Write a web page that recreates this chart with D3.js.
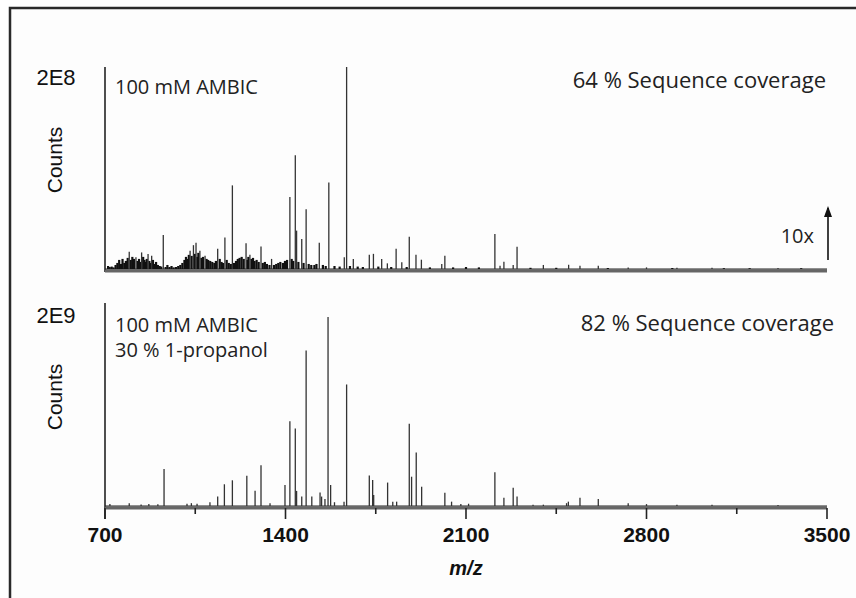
<!DOCTYPE html>
<html>
<head>
<meta charset="utf-8">
<script src="https://cdn.jsdelivr.net/npm/d3@7"></script>
<style>
  body { margin: 0; background: #fff; }
  svg { display: block; }
</style>
</head>
<body>
<div id="vis"></div>
<script>
// m/z axis ticks
const xTicks = [700, 1400, 2100, 2800, 3500]
const xMinor = [1050, 1750, 2450, 3150]

// top panel: 100 mM AMBIC (relative intensity, 1 = 2E8)
const topMz = [794, 820, 842, 867, 881, 926, 1030, 1043, 1053, 1068, 1088, 1137, 1165, 1194, 1247, 1262, 1305, 1346,
    1417, 1438, 1443, 1463, 1480, 1531, 1568, 1628, 1637, 1663, 1725, 1741, 1773, 1795, 1829, 1851, 1880, 1906, 1927,
    2006, 2018, 2212, 2232, 2247, 2283, 2298, 2400, 2498, 2542, 2613, 2729, 2800, 2918, 3054, 3310]
const topInt = [0.086, 0.058, 0.082, 0.074, 0.066, 0.168, 0.09, 0.118, 0.13, 0.09, 0.066, 0.1, 0.156, 0.414, 0.128, 0.07, 0.112, 0.05,
    0.357, 0.563, 0.19, 0.148, 0.296, 0.13, 0.428, 0.058, 1.0, 0.05, 0.07, 0.075, 0.05, 0.028, 0.1, 0.033, 0.16, 0.07, 0.046,
    0.025, 0.066, 0.173, 0.016, 0.036, 0.02, 0.11, 0.02, 0.021, 0.016, 0.016, 0.008, 0.008, 0.006, 0.006, 0.005]

// top panel: low-level background peaks
const topNoiseMz = [712, 718, 726, 733, 741, 748, 755, 762, 768, 775, 781, 788, 800, 806, 812, 826, 832, 836, 848, 853, 858,
    862, 872, 876, 886, 892, 898, 905, 912, 918, 935, 942, 950, 958, 966, 975, 984, 992, 1000, 1008, 1014, 1020, 1025, 1036,
    1048, 1058, 1062, 1074, 1080, 1094, 1100, 1108, 1116, 1124, 1130, 1145, 1152, 1158, 1172, 1180, 1188, 1200, 1208, 1215,
    1222, 1230, 1238, 1252, 1256, 1268, 1274, 1280, 1288, 1296, 1312, 1320, 1328, 1338, 1355, 1364, 1372, 1380, 1390, 1398,
    1406, 1424, 1430, 1450, 1470, 1490, 1500, 1512, 1520, 1545, 1556, 1590, 1610, 1650, 1680, 1700, 1760, 1810, 1870, 1960,
    2050, 2100, 2150, 2350, 2450, 2650, 2900, 3100, 3200, 3400]
const topNoiseInt = [0.015, 0.01, 0.012, 0.008, 0.02, 0.03, 0.045, 0.025, 0.05, 0.03, 0.04, 0.055, 0.045, 0.06, 0.05, 0.04, 0.05, 0.035,
    0.06, 0.045, 0.035, 0.05, 0.04, 0.03, 0.045, 0.025, 0.035, 0.02, 0.015, 0.012, 0.01, 0.02, 0.01, 0.015, 0.008, 0.01, 0.015, 0.02,
    0.03, 0.045, 0.06, 0.05, 0.07, 0.065, 0.075, 0.06, 0.08, 0.055, 0.06, 0.05, 0.045, 0.04, 0.035, 0.03, 0.04, 0.05, 0.035, 0.03,
    0.045, 0.03, 0.025, 0.03, 0.04, 0.05, 0.055, 0.06, 0.05, 0.045, 0.06, 0.05, 0.055, 0.04, 0.045, 0.035, 0.03, 0.035, 0.025, 0.02,
    0.02, 0.025, 0.03, 0.035, 0.03, 0.04, 0.045, 0.05, 0.04, 0.035, 0.03, 0.025, 0.02, 0.02, 0.025, 0.02, 0.015, 0.015, 0.012,
    0.015, 0.012, 0.01, 0.012, 0.01, 0.01, 0.008, 0.008, 0.01, 0.008, 0.006, 0.006, 0.005, 0.005, 0.004, 0.004, 0.004]

// bottom panel: 100 mM AMBIC, 30 % 1-propanol (relative intensity, 1 = 2E9)
const botMz = [719, 794, 840, 870, 905, 929, 1018, 1035, 1057, 1107, 1137, 1163, 1194, 1250, 1282, 1305, 1340, 1398, 1417, 1438,
    1443, 1463, 1480, 1502, 1534, 1540, 1553, 1565, 1575, 1590, 1627, 1637, 1725, 1738, 1742, 1796, 1816, 1831, 1880, 1889,
    1907, 1928, 2018, 2044, 2080, 2110, 2212, 2247, 2283, 2298, 2360, 2400, 2490, 2497, 2542, 2613, 2729, 2800, 2918, 3054, 3310]
const botInt = [0.01, 0.014, 0.008, 0.01, 0.009, 0.196, 0.012, 0.015, 0.012, 0.02, 0.05, 0.115, 0.136, 0.16, 0.081, 0.216, 0.015,
    0.111, 0.449, 0.41, 0.08, 0.05, 0.823, 0.05, 0.072, 0.05, 0.037, 1.0, 0.111, 0.02, 0.023, 0.643, 0.161, 0.138, 0.058, 0.124,
    0.023, 0.023, 0.435, 0.155, 0.283, 0.102, 0.07, 0.023, 0.01, 0.012, 0.178, 0.044, 0.097, 0.05, 0.007, 0.007, 0.015, 0.023,
    0.044, 0.037, 0.014, 0.01, 0.006, 0.006, 0.005]

let width = 856
let height = 598

let svg = d3.select("#vis").append("svg").attr("width", width).attr("height", height)

// frame (cut off on the right and bottom)
svg.append("rect").attr("x", 10).attr("y", 8).attr("width", 900).attr("height", 700)
    .attr("fill", "#fdfdfd").attr("stroke", "#2a2a2a").attr("stroke-width", 2.5)

const x = d3.scaleLinear().domain([700, 3500]).range([105, 827])

const panels = [
    { top: 67, base: 269, axisY: 271, mz: topMz, inten: topInt, noiseMz: topNoiseMz, noiseInt: topNoiseInt, max: "2E8", cy: 160 },
    { top: 317, base: 506, axisY: 508, mz: botMz, inten: botInt, noiseMz: [], noiseInt: [], max: "2E9", cy: 397 }
]

panels.forEach((p, i) => {
    const y = d3.scaleLinear().domain([0, 1]).range([p.base, p.top])
    const g = svg.append("g")

    // axis lines
    g.append("line").attr("x1", 105).attr("x2", 105)
        .attr("y1", i == 0 ? 67 : 303).attr("y2", i == 0 ? p.axisY + 1 : p.axisY + 11)
        .attr("stroke", "#222").attr("stroke-width", 1.6)
    g.append("line").attr("x1", 105).attr("x2", 827).attr("y1", p.axisY).attr("y2", p.axisY)
        .attr("stroke", "#666").attr("stroke-width", 3)
    g.append("line").attr("x1", 105).attr("x2", 827).attr("y1", p.base).attr("y2", p.base)
        .attr("stroke", "#222").attr("stroke-width", 1)

    // background peaks
    g.selectAll(".noise").data(p.noiseMz).enter().append("line")
        .attr("x1", d => x(d)).attr("x2", d => x(d))
        .attr("y1", p.base).attr("y2", (d, j) => y(p.noiseInt[j]))
        .attr("stroke", "#111").attr("stroke-width", 2.2)

    // peaks
    g.selectAll(".peak").data(p.mz).enter().append("line")
        .attr("x1", d => x(d)).attr("x2", d => x(d))
        .attr("y1", p.base).attr("y2", (d, j) => y(p.inten[j]))
        .attr("stroke", "#333").attr("stroke-width", 1.3)

    // y labels
    svg.append("text").attr("x", 56).attr("y", p.top + (i == 0 ? 18 : 6))
        .attr("text-anchor", "middle").style("font-family", "Liberation Sans, Arial").style("font-size", "22px")
        .attr("fill", "#111").text(p.max)
    svg.append("text").attr("transform", "translate(62," + p.cy + ") rotate(-90)")
        .attr("text-anchor", "middle").style("font-family", "Liberation Sans, Arial").style("font-size", "21px")
        .attr("fill", "#111").text("Counts")
})

// ticks on bottom axis
svg.selectAll(".tick").data(xTicks).enter().append("line")
    .attr("x1", d => x(d)).attr("x2", d => x(d)).attr("y1", 508).attr("y2", 519)
    .attr("stroke", "#222").attr("stroke-width", 1.6)
svg.selectAll(".minor").data(xMinor).enter().append("line")
    .attr("x1", d => x(d)).attr("x2", d => x(d)).attr("y1", 508).attr("y2", 514)
    .attr("stroke", "#222").attr("stroke-width", 1.6)
svg.selectAll(".ticklabel").data(xTicks).enter().append("text")
    .attr("x", d => x(d)).attr("y", 542).attr("text-anchor", "middle")
    .style("font-family", "Liberation Sans, Arial").style("font-size", "21px").style("font-weight", "bold")
    .attr("fill", "#111").text(d => d)
svg.append("text").attr("x", x(2100)).attr("y", 575).attr("text-anchor", "middle")
    .style("font-family", "Liberation Sans, Arial").style("font-size", "20px").style("font-weight", "bold")
    .style("font-style", "italic").attr("fill", "#111").text("m/z")

// annotations
const ann = svg.append("g").style("font-family", "Open Sans").attr("fill", "#222")
ann.append("text").attr("x", 115).attr("y", 94).style("font-size", "20px").text("100 mM AMBIC")
ann.append("text").attr("x", 826).attr("y", 88).attr("text-anchor", "end").style("font-size", "22px").text("64 % Sequence coverage")
ann.append("text").attr("x", 115).attr("y", 332).style("font-size", "20px").text("100 mM AMBIC")
ann.append("text").attr("x", 115).attr("y", 357).style("font-size", "20px").text("30 % 1-propanol")
ann.append("text").attr("x", 834).attr("y", 331).attr("text-anchor", "end").style("font-size", "22px").text("82 % Sequence coverage")
ann.append("text").attr("x", 814).attr("y", 243).attr("text-anchor", "end").style("font-size", "20px").text("10x")

// 10x arrow
svg.append("line").attr("x1", 828).attr("x2", 828).attr("y1", 260).attr("y2", 208)
    .attr("stroke", "#111").attr("stroke-width", 1.6)
svg.append("path").attr("d", "M824,217 L828,206 L832,217 Z").attr("fill", "#111")
</script>
</body>
</html>
